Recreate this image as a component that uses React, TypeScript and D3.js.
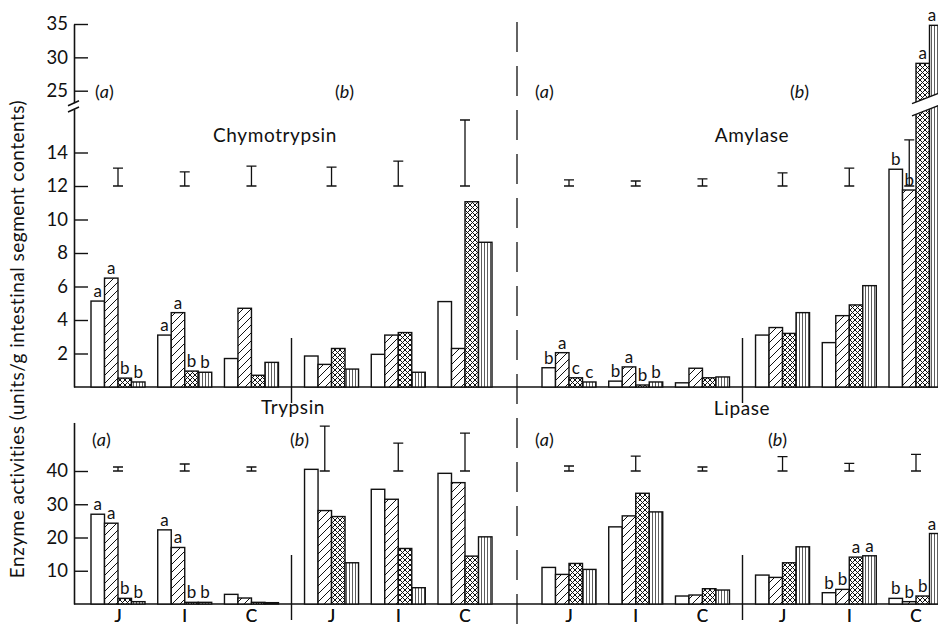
import React, { useEffect, useRef } from 'react';
import * as d3 from 'd3';

// groups: (a) J I C, (b) J I C
const groups = ['J', 'I', 'C', 'J', 'I', 'C'];
const series = ['open', 'hatched', 'crossed', 'vertical'];
const fills = ['#fff', 'url(#hatch)', 'url(#cross)', 'url(#vlines)'];

// values per group, series order as above
const chymotrypsin = [
  [5.13, 6.5, 0.53, 0.3],
  [3.1, 4.44, 0.95, 0.88],
  [1.7, 4.7, 0.7, 1.47],
  [1.85, 1.35, 2.3, 1.07],
  [1.95, 3.1, 3.25, 0.88],
  [5.1, 2.3, 11.06, 8.64],
];
const chymoLetters = [
  ['a', 'a', 'b', 'b'],
  ['a', 'a', 'b', 'b'],
  [], [], [], [],
];
const chymoSE = [1.07, 0.84, 1.19, 1.13, 1.49, 3.94];

const amylase = [
  [1.15, 2.05, 0.55, 0.3],
  [0.35, 1.2, 0.12, 0.3],
  [0.25, 1.12, 0.55, 0.6],
  [3.1, 3.55, 3.2, 4.44],
  [2.65, 4.26, 4.9, 6.05],
  [13.0, 11.76, 29.1, 34.8],
];
const amylaseLetters = [
  ['b', 'a', 'c', 'c'],
  ['b', 'a', 'b', 'b'],
  [], [], [],
  ['b', 'b', 'a', 'a'],
];
const amylaseSE = [0.36, 0.3, 0.42, 0.78, 1.07, 2.75];

const trypsin = [
  [27.0, 24.3, 1.7, 0.7],
  [22.3, 17.0, 0.5, 0.5],
  [2.9, 1.8, 0.5, 0.4],
  [40.5, 28.1, 26.3, 12.4],
  [34.5, 31.5, 16.7, 4.9],
  [39.3, 36.5, 14.4, 20.2],
];
const trypsinLetters = [
  ['a', 'a', 'b', 'b'],
  ['a', 'a', 'b', 'b'],
  [], [], [], [],
];
const trypsinSE = [1.2, 2.1, 1.2, 13.5, 8.4, 11.4];

const lipase = [
  [11.0, 8.9, 12.2, 10.4],
  [23.2, 26.5, 33.3, 27.7],
  [2.4, 2.7, 4.6, 4.2],
  [8.7, 8.0, 12.4, 17.2],
  [3.4, 4.4, 14.1, 14.5],
  [1.7, 0.7, 2.4, 21.2],
];
const lipaseLetters = [
  [], [], [], [],
  ['b', 'b', 'a', 'a'],
  ['b', 'b', 'b', 'a'],
];
const lipaseSE = [1.5, 4.5, 1.2, 4.3, 2.3, 5.0];

const topTicksLow = [2, 4, 6, 8, 10, 12, 14];
const topTicksHigh = [25, 30, 35];
const bottomTicks = [10, 20, 30, 40];

const FONT = 'Lato, "Open Sans", sans-serif';

const App = () => {
  const ref = useRef<SVGSVGElement>(null);

  useEffect(() => {
    const width = 938,
      height = 628;
    const svg = d3.select(ref.current).attr('width', width).attr('height', height);
    svg.selectAll('*').remove();

    const defs = svg.append('defs');
    const hatch = defs
      .append('pattern')
      .attr('id', 'hatch')
      .attr('patternUnits', 'userSpaceOnUse')
      .attr('width', 8)
      .attr('height', 8);
    hatch.append('rect').attr('width', 8).attr('height', 8).attr('fill', '#fff');
    hatch
      .append('path')
      .attr('d', 'M0,8 L8,0 M-1,1 L1,-1 M7,9 L9,7')
      .attr('stroke', '#111')
      .attr('stroke-width', 1);

    const cross = defs
      .append('pattern')
      .attr('id', 'cross')
      .attr('patternUnits', 'userSpaceOnUse')
      .attr('width', 5)
      .attr('height', 5);
    cross.append('rect').attr('width', 5).attr('height', 5).attr('fill', '#fff');
    cross
      .append('path')
      .attr('d', 'M0,0 L5,5 M5,0 L0,5')
      .attr('stroke', '#111')
      .attr('stroke-width', 1);

    const vl = defs
      .append('pattern')
      .attr('id', 'vlines')
      .attr('patternUnits', 'userSpaceOnUse')
      .attr('width', 3)
      .attr('height', 3);
    vl.append('rect').attr('width', 3).attr('height', 3).attr('fill', '#fff');
    vl.append('path').attr('d', 'M1.5,0 L1.5,3').attr('stroke', '#333').attr('stroke-width', 0.8);

    const axisX = 74;

    // top panel: broken y axis (0-16.6 below the break, 23.2-35 above)
    const breakLow = 16.6,
      breakHigh = 23.2;
    const lowRef = d3.scaleLinear().domain([0, 14]).range([387, 152.5]);
    const highRef = d3.scaleLinear().domain([25, 35]).range([90.7, 24]);
    const lowScale = d3.scaleLinear().domain([0, breakLow]).range([387, lowRef(breakLow)]);
    const highScale = d3.scaleLinear().domain([breakHigh, 35]).range([highRef(breakHigh), 24]);
    const topY = (v: number) => (v <= breakLow ? lowScale(v) : highScale(v));

    const botRef = d3.scaleLinear().domain([0, 40]).range([604, 471]);
    const botY = d3.scaleLinear().domain([0, 54.6]).range([604, botRef(54.6)]);

    const xLeft = d3.scaleLinear().domain([0, 5.2]).range([118, 465]);
    const xRight = d3.scaleLinear().domain([0, 5.2]).range([569, 916]);
    const slot = (i: number) => i + (i >= 3 ? 0.2 : 0);
    const band = d3.scaleBand().domain(series).range([-27, 27]).padding(0);
    const bw = band.bandwidth();

    const styleAxis = (g) => {
      g.select('.domain').attr('stroke', '#111').attr('stroke-width', 1.6);
      g.selectAll('.tick line').attr('stroke', '#111').attr('stroke-width', 1.4);
      g.selectAll('.tick text')
        .attr('font-family', FONT)
        .attr('font-size', 18.5)
        .attr('fill', '#111');
    };

    // axes
    const a1 = svg
      .append('g')
      .attr('transform', `translate(${axisX},0)`)
      .call(d3.axisLeft(lowScale).tickValues(topTicksLow).tickSize(-14).tickSizeOuter(0).tickPadding(6));
    styleAxis(a1);
    const a2 = svg
      .append('g')
      .attr('transform', `translate(${axisX},0)`)
      .call(d3.axisLeft(highScale).tickValues(topTicksHigh).tickSize(-14).tickSizeOuter(0).tickPadding(6));
    styleAxis(a2);
    const a3 = svg
      .append('g')
      .attr('transform', `translate(${axisX},0)`)
      .call(d3.axisLeft(botY).tickValues(bottomTicks).tickSize(-14).tickSizeOuter(0).tickPadding(6));
    styleAxis(a3);

    // axis break slashes
    [highScale(breakHigh), lowScale(breakLow)].forEach((y) => {
      svg
        .append('line')
        .attr('x1', axisX - 6)
        .attr('y1', y + 3)
        .attr('x2', axisX + 5)
        .attr('y2', y - 2)
        .attr('stroke', '#111')
        .attr('stroke-width', 1.5);
    });

    // baselines
    [topY(0), botY(0)].forEach((y) => {
      svg
        .append('line')
        .attr('x1', axisX)
        .attr('x2', width)
        .attr('y1', y)
        .attr('y2', y)
        .attr('stroke', '#111')
        .attr('stroke-width', 1.6);
    });

    // dashed divider
    svg
      .append('line')
      .attr('x1', 517)
      .attr('x2', 517)
      .attr('y1', 22)
      .attr('y2', 626)
      .attr('stroke', '#111')
      .attr('stroke-width', 1.3)
      .attr('stroke-dasharray', '30,14');

    const panels = [
      { name: 'Chymotrypsin', values: chymotrypsin, letters: chymoLetters, se: chymoSE, x: xLeft, y: topY, seBase: 12, titleX: 275, titleY: 142, subY: 98, subX: [95, 335] },
      { name: 'Amylase', values: amylase, letters: amylaseLetters, se: amylaseSE, x: xRight, y: topY, seBase: 12, titleX: 752, titleY: 142, subY: 98, subX: [535, 790] },
      { name: 'Trypsin', values: trypsin, letters: trypsinLetters, se: trypsinSE, x: xLeft, y: botY, seBase: 40, titleX: 293, titleY: 414, subY: 446, subX: [92, 290] },
      { name: 'Lipase', values: lipase, letters: lipaseLetters, se: lipaseSE, x: xRight, y: botY, seBase: 40, titleX: 742, titleY: 415, subY: 446, subX: [535, 768] },
    ];

    panels.forEach((p) => {
      const g = svg.append('g');
      const base = p.y(0);

      // separator between (a) and (b)
      g.append('line')
        .attr('x1', p.x(2.6))
        .attr('x2', p.x(2.6))
        .attr('y1', base - 49)
        .attr('y2', base + 16)
        .attr('stroke', '#111')
        .attr('stroke-width', 1.4);

      p.values.forEach((vals, gi) => {
        const cx = p.x(slot(gi));
        vals.forEach((v, si) => {
          const x0 = cx + band(series[si]);
          g.append('rect')
            .attr('x', x0)
            .attr('y', p.y(v))
            .attr('width', bw)
            .attr('height', base - p.y(v))
            .attr('fill', fills[si])
            .attr('stroke', '#111')
            .attr('stroke-width', 1.4);
          const lt = p.letters[gi][si];
          if (lt) {
            g.append('text')
              .attr('x', Math.min(x0 + bw / 2, width - 6))
              .attr('y', p.y(v) - 4)
              .attr('text-anchor', 'middle')
              .attr('font-family', FONT)
              .attr('font-size', 17)
              .attr('fill', '#111')
              .text(lt);
          }
        });

        // error bar (SE), drawn above the group
        const blocked = d3.max(vals) > p.seBase;
        const ex = blocked ? cx + band('hatched') + bw / 2 : cx;
        const y1 = p.y(p.seBase),
          y2 = p.y(p.seBase + p.se[gi]);
        g.append('path')
          .attr('d', `M${ex - 5},${y1}H${ex + 5}M${ex},${y1}V${y2}M${ex - 5},${y2}H${ex + 5}`)
          .attr('stroke', '#111')
          .attr('stroke-width', 1.3)
          .attr('fill', 'none');
      });

      // bar break for tall bars
      p.values.forEach((vals, gi) => {
        if (p.y !== topY || d3.max(vals) <= breakLow) return;
        const cx = p.x(slot(gi));
        const xa = cx + band('crossed') - 4;
        const xb = width + 2;
        const ya = lowScale(breakLow) + 7;
        const yb = highScale(breakHigh) + 1;
        g.append('path')
          .attr('d', `M${xa},${ya}L${xb},${ya - 11}L${xb},${yb - 11}L${xa},${yb}Z`)
          .attr('fill', '#fff');
        g.append('path')
          .attr('d', `M${xa},${ya}L${xb},${ya - 11}M${xa},${yb}L${xb},${yb - 11}`)
          .attr('stroke', '#111')
          .attr('stroke-width', 1.4);
      });

      // x labels
      groups.forEach((lab, gi) => {
        g.append('text')
          .attr('x', p.x(slot(gi)))
          .attr('y', 622)
          .attr('text-anchor', 'middle')
          .attr('font-family', FONT)
          .attr('font-size', 17)
          .attr('fill', '#111')
          .text(lab);
      });

      // titles
      g.append('text')
        .attr('x', p.titleX)
        .attr('y', p.titleY)
        .attr('text-anchor', 'middle')
        .attr('font-family', FONT)
        .attr('font-size', 19)
        .attr('letter-spacing', 0.6)
        .attr('fill', '#111')
        .text(p.name);

      ['a', 'b'].forEach((s, k) => {
        const t = g
          .append('text')
          .attr('x', p.subX[k])
          .attr('y', p.subY)
          .attr('font-family', FONT)
          .attr('font-size', 18)
          .attr('fill', '#111');
        t.append('tspan').text('(');
        t.append('tspan').attr('font-style', 'italic').text(s);
        t.append('tspan').text(')');
      });
    });

    // y title
    svg
      .append('text')
      .attr('transform', 'translate(24,339) rotate(-90)')
      .attr('text-anchor', 'middle')
      .attr('font-family', FONT)
      .attr('font-size', 19)
      .attr('letter-spacing', 0.5)
      .attr('fill', '#111')
      .text('Enzyme activities (units/g intestinal segment contents)');
  }, []);

  return <svg ref={ref} style={{ position: 'absolute', left: 0, top: 0, background: '#fff' }} />;
};

export default App;
